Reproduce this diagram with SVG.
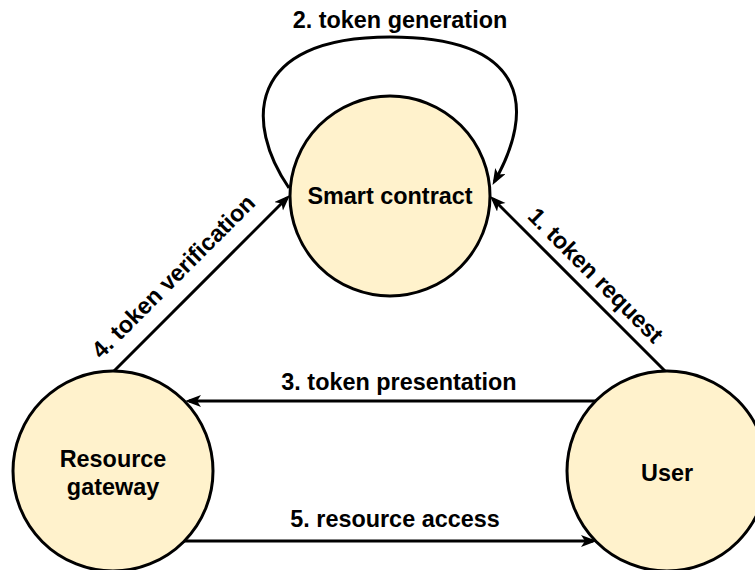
<svg xmlns="http://www.w3.org/2000/svg" width="755" height="570" viewBox="0 0 755 570">
<style>
.node{fill:#fff2cc;stroke:#000;stroke-width:3}
.lbl{font-family:"Liberation Sans",Arial,sans-serif;font-weight:bold;font-size:23.4px;fill:#000;text-anchor:middle}
.edge{fill:none;stroke:#000;stroke-width:3}
</style>
<defs>
<marker id="arr" markerUnits="userSpaceOnUse" markerWidth="18" markerHeight="14" refX="12" refY="6" orient="auto">
<path d="M0,0 L16,6 L0,12 L4,6 Z" fill="#000"/>
</marker>
</defs>
<rect width="755" height="570" fill="#fff"/>
<g id="connectors">
<path class="edge" d="M289,188 C245,124 245,37 390,37 C530,37 535,110 494.5,181.5" marker-end="url(#arr)"/>
<line class="edge" x1="665" y1="371" x2="492.8" y2="198.8" marker-end="url(#arr)"/>
<line class="edge" x1="113" y1="372" x2="287.2" y2="197.8" marker-end="url(#arr)"/>
<line class="edge" x1="596" y1="401" x2="189" y2="401" marker-end="url(#arr)"/>
<line class="edge" x1="184" y1="541" x2="593" y2="541" marker-end="url(#arr)"/>
<text class="lbl" x="400" y="28">2. token generation</text>
<text class="lbl" transform="translate(590,281) rotate(45)">1. token request</text>
<text class="lbl" transform="translate(179,282) rotate(-45)">4. token verification</text>
<text class="lbl" x="399" y="390">3. token presentation</text>
<text class="lbl" x="395" y="527">5. resource access</text>
</g>
<g id="smart-contract">
<circle class="node" cx="390" cy="196" r="100"/>
<text class="lbl" x="390" y="204">Smart contract</text>
</g>
<g id="resource-gateway">
<circle class="node" cx="113" cy="471" r="100"/>
<text class="lbl" x="113" y="467">Resource</text>
<text class="lbl" x="113" y="495">gateway</text>
</g>
<g id="user">
<circle class="node" cx="667" cy="471" r="100"/>
<text class="lbl" x="667" y="481">User</text>
</g>
</svg>
